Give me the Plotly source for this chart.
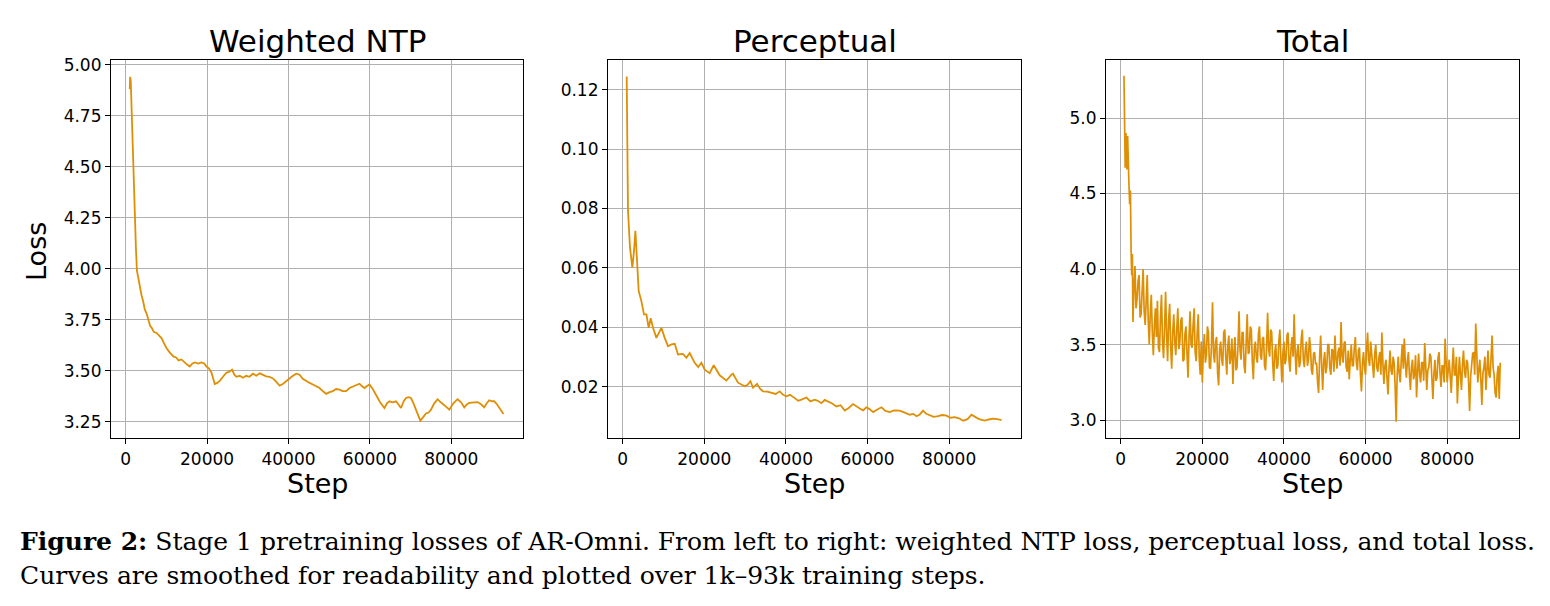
import plotly.graph_objects as go

# ---------------- data ----------------
ntp_steps = [1000, 1100, 1250, 1470, 1870, 2280, 2520, 2770, 3100, 3500, 3900, 4300, 4700, 5150, 5600,
             6000, 6400, 6900, 7600, 8200, 8800, 9400, 10050, 10800, 11700, 12400, 13000, 13700, 14400,
             15100, 15760, 16400, 17000, 17800, 18600, 19300, 19850, 20500, 21080, 21500, 21890, 22500,
             23110, 23900, 24740, 25500, 26130, 26700, 27200, 28000, 28830, 29600, 30400, 31280, 32100,
             32920, 33700, 34550, 35300, 36180, 37000, 37820, 38600, 39450, 40300, 41090, 41900, 42720,
             43500, 44360, 45200, 45990, 46800, 47620, 48400, 49260, 50100, 50890, 51700, 52530, 53300,
             54160, 55000, 55800, 56600, 57430, 58000, 58660, 59300, 59880, 60700, 61510, 62500, 63560,
             64200, 64780, 65600, 66420, 67000, 67640, 68300, 68870, 69500, 70090, 70700, 71320, 71900,
             72380, 73000, 73770, 74400, 75000, 75800, 76630, 77400, 78260, 78900, 79490, 80500, 81530,
             82400, 83170, 83800, 84390, 85400, 86430, 87300, 88070, 88700, 89290, 90000, 90520, 91200,
             91740, 92300, 92800]
ntp_loss = [4.88, 4.94, 4.92, 4.76, 4.53, 4.28, 4.10, 3.99, 3.95, 3.91, 3.87, 3.84, 3.80, 3.78, 3.75,
            3.72, 3.71, 3.69, 3.685, 3.67, 3.66, 3.635, 3.61, 3.59, 3.57, 3.565, 3.55, 3.555, 3.54,
            3.53, 3.52, 3.535, 3.54, 3.535, 3.54, 3.535, 3.52, 3.51, 3.49, 3.46, 3.435, 3.44,
            3.45, 3.47, 3.49, 3.495, 3.505, 3.48, 3.47, 3.475, 3.465, 3.475, 3.47, 3.485, 3.475,
            3.487, 3.48, 3.472, 3.47, 3.462, 3.445, 3.427, 3.435, 3.45, 3.465, 3.475, 3.485, 3.48,
            3.46, 3.448, 3.44, 3.432, 3.425, 3.415, 3.40, 3.386, 3.395, 3.40, 3.41, 3.407, 3.40,
            3.40, 3.415, 3.423, 3.43, 3.436, 3.425, 3.415, 3.425, 3.432, 3.41, 3.382, 3.345, 3.317,
            3.34, 3.35, 3.345, 3.35, 3.335, 3.317, 3.35, 3.366, 3.37, 3.366, 3.34, 3.309, 3.275,
            3.255, 3.27, 3.29, 3.295, 3.309, 3.34, 3.36, 3.345, 3.333, 3.32, 3.309, 3.34, 3.36,
            3.345, 3.32, 3.335, 3.342, 3.345, 3.346, 3.335, 3.32, 3.34, 3.355, 3.35, 3.35, 3.335,
            3.317, 3.30, 3.287]

perc_steps = [980, 1150, 1300, 1790, 2370, 2770, 3110, 3430, 3920, 4580, 5220, 5810, 6370, 6860, 7430,
              8260, 9490, 10290, 11100, 11940, 12750, 13550, 14780, 15610, 16420, 17650, 18500, 19290,
              20100, 21320, 22300, 23770, 24600, 25410, 26640, 27030, 28260, 29900, 30600, 31300,
              31940, 32920, 33700, 34390, 35400, 36450, 37500, 38480, 39300, 40120, 41000, 42160,
              43000, 43800, 44400, 45030, 46000, 47060, 47800, 48700, 49500, 50320, 51300, 52380,
              53400, 54410, 55300, 56450, 57200, 58090, 58900, 59730, 60500, 61360, 62300, 63400,
              64400, 65440, 66500, 67890, 69100, 70340, 71200, 71980, 72800, 73600, 74400, 75240,
              76200, 77280, 78300, 79340, 80300, 81370, 82400, 83410, 84500, 85470, 86300, 87090,
              87900, 88730, 89700, 90770, 91800, 92830]
perc_loss = [0.1245, 0.0961, 0.0792, 0.0668, 0.0601, 0.0657, 0.0725, 0.0646, 0.0522, 0.0488, 0.0443,
             0.0443, 0.0398, 0.0430, 0.0398, 0.0364, 0.0398, 0.0364, 0.0336, 0.0342, 0.0344, 0.0308,
             0.0310, 0.0297, 0.0313, 0.0280, 0.0266, 0.0280, 0.0257, 0.0245, 0.0272, 0.0238, 0.0230,
             0.0220, 0.0240, 0.0243, 0.0213, 0.0201, 0.0206, 0.0218, 0.0196, 0.0209, 0.0192, 0.0184,
             0.0183, 0.0178, 0.0175, 0.0184, 0.0172, 0.0167, 0.0172, 0.0161, 0.0152, 0.0156, 0.0159,
             0.0163, 0.0150, 0.0156, 0.0152, 0.0144, 0.0155, 0.0150, 0.0143, 0.0133, 0.0137, 0.0119,
             0.0127, 0.0141, 0.0133, 0.0126, 0.0120, 0.0130, 0.0124, 0.0114, 0.0122, 0.0130, 0.0118,
             0.0114, 0.0120, 0.0119, 0.0112, 0.0105, 0.0108, 0.0100, 0.0106, 0.0119, 0.0108, 0.0102,
             0.0098, 0.0100, 0.0104, 0.0102, 0.0095, 0.0097, 0.0093, 0.0085, 0.0090, 0.0105, 0.0097,
             0.0092, 0.0088, 0.0085, 0.0089, 0.0092, 0.0090, 0.0087]

total_early_steps = [800, 1000, 1100, 1200, 1300, 1400, 1550, 1700, 1850, 2000, 2200, 2380, 2550, 2700, 2860]
total_early_loss = [5.28, 4.94, 4.67, 4.88, 4.90, 4.72, 4.66, 4.88, 4.62, 4.58, 4.43, 4.52, 4.12, 3.96, 4.10]
total_log_start, total_log_every = 3000, 250
total_loss = [
    3.65, 3.88, 4.02, 3.74, 3.80, 3.92, 3.96, 3.68, 3.70, 3.85, 4.00, 3.72, 3.63, 3.79, 3.96, 3.66, 3.50, 3.71, 3.83, 3.58,
    3.43, 3.62, 3.74, 3.55, 3.79, 3.48, 3.45, 3.68, 3.83, 3.52, 3.41, 3.60, 3.85, 3.57, 3.39, 3.66, 3.77, 3.49, 3.34, 3.58,
    3.70, 3.52, 3.43, 3.61, 3.74, 3.47, 3.52, 3.66, 3.68, 3.39, 3.40, 3.57, 3.62, 3.44, 3.28, 3.55, 3.72, 3.50, 3.48, 3.63,
    3.74, 3.45, 3.39, 3.58, 3.70, 3.41, 3.30, 3.52, 3.25, 3.46, 3.57, 3.38, 3.43, 3.62, 3.58, 3.35, 3.34, 3.50, 3.78, 3.44,
    3.38, 3.52, 3.55, 3.31, 3.23, 3.47, 3.52, 3.40, 3.36, 3.58, 3.60, 3.42, 3.30, 3.49, 3.56, 3.37, 3.42, 3.54, 3.24, 3.45,
    3.55, 3.33, 3.35, 3.50, 3.72, 3.46, 3.40, 3.58, 3.58, 3.36, 3.31, 3.52, 3.70, 3.44, 3.45, 3.62, 3.60, 3.39, 3.27, 3.48,
    3.52, 3.41, 3.38, 3.57, 3.62, 3.43, 3.40, 3.54, 3.55, 3.36, 3.33, 3.49, 3.71, 3.47, 3.42, 3.60, 3.58, 3.38, 3.26, 3.45,
    3.50, 3.34, 3.36, 3.52, 3.60, 3.41, 3.25, 3.44, 3.52, 3.37, 3.40, 3.56, 3.58, 3.39, 3.32, 3.48, 3.55, 3.42, 3.70, 3.45,
    3.30, 3.46, 3.50, 3.35, 3.38, 3.54, 3.60, 3.40, 3.35, 3.47, 3.52, 3.36, 3.40, 3.55, 3.48, 3.33, 3.30, 3.44, 3.45, 3.37,
    3.38, 3.25, 3.18, 3.42, 3.56, 3.36, 3.20, 3.39, 3.45, 3.31, 3.35, 3.50, 3.50, 3.34, 3.30, 3.47, 3.46, 3.32, 3.56, 3.41,
    3.34, 3.45, 3.48, 3.36, 3.65, 3.42, 3.38, 3.51, 3.52, 3.35, 3.32, 3.46, 3.27, 3.40, 3.50, 3.36, 3.36, 3.48, 3.55, 3.38,
    3.33, 3.46, 3.48, 3.30, 3.19, 3.38, 3.45, 3.34, 3.30, 3.47, 3.58, 3.40, 3.36, 3.52, 3.42, 3.31, 3.28, 3.44, 3.50, 3.35,
    3.32, 3.41, 3.45, 3.30, 3.58, 3.38, 3.24, 3.36, 3.40, 3.28, 3.17, 3.34, 3.46, 3.33, 3.30, 3.42, 3.38, 3.22, 2.99, 3.30,
    3.42, 3.31, 3.25, 3.40, 3.50, 3.34, 3.54, 3.38, 3.28, 3.39, 3.45, 3.30, 3.20, 3.35, 3.40, 3.27, 3.30, 3.43, 3.15, 3.32,
    3.44, 3.30, 3.25, 3.38, 3.38, 3.26, 3.51, 3.36, 3.20, 3.33, 3.35, 3.44, 3.42, 3.28, 3.14, 3.30, 3.40, 3.26, 3.28, 3.41,
    3.45, 3.31, 3.22, 3.36, 3.36, 3.25, 3.54, 3.38, 3.25, 3.33, 3.40, 3.29, 3.18, 3.35, 3.48, 3.30, 3.30, 3.42, 3.11, 3.28,
    3.42, 3.30, 3.20, 3.37, 3.46, 3.32, 3.28, 3.40, 3.38, 3.25, 3.06, 3.29, 3.35, 3.44, 3.45, 3.30, 3.64, 3.38, 3.25, 3.33,
    3.40, 3.27, 3.10, 3.31, 3.35, 3.42, 3.20, 3.33, 3.46, 3.30, 3.28, 3.41, 3.56, 3.35, 3.30, 3.18, 3.15, 3.30, 3.36, 3.14,
    3.38,
]

panel_titles = ["Weighted NTP", "Perceptual", "Total"]
x_tick_vals = [0, 20000, 40000, 60000, 80000]
ntp_ticks = [3.25, 3.50, 3.75, 4.00, 4.25, 4.50, 4.75, 5.00]
perc_ticks = [0.02, 0.04, 0.06, 0.08, 0.10, 0.12]
total_ticks = [3.0, 3.5, 4.0, 4.5, 5.0]
caption_bold = "Figure 2:"
caption_line1 = " Stage 1 pretraining losses of AR-Omni. From left to right: weighted NTP loss, perceptual loss, and total loss."
caption_line2 = "Curves are smoothed for readability and plotted over 1k–93k training steps."

# ---------------- figure ----------------
W, H = 1550, 606
LINE = "#DE8F05"
FONT = "DejaVu Sans"

total_steps = total_early_steps + [total_log_start + i * total_log_every for i in range(len(total_loss))]
total_all = total_early_loss + total_loss

fig = go.Figure()
fig.add_trace(go.Scatter(x=ntp_steps, y=ntp_loss, mode="lines", line=dict(color=LINE, width=1.8),
                         xaxis="x", yaxis="y", showlegend=False))
fig.add_trace(go.Scatter(x=perc_steps, y=perc_loss, mode="lines", line=dict(color=LINE, width=1.8),
                         xaxis="x2", yaxis="y2", showlegend=False))
fig.add_trace(go.Scatter(x=total_steps, y=total_all, mode="lines", line=dict(color=LINE, width=1.7),
                         xaxis="x3", yaxis="y3", showlegend=False))

px_left = [111, 608, 1106]
px_right = [523, 1021, 1519]
top_px, bot_px = 55, 437
ydom = [(H - bot_px) / H, (H - top_px) / H]

axis_common = dict(showline=True, linecolor="black", linewidth=1.2, mirror=True,
                   ticks="outside", ticklen=5, tickwidth=1.2, tickcolor="black",
                   showgrid=True, gridcolor="#b0b0b0", gridwidth=1, zeroline=False,
                   tickfont=dict(family=FONT, size=17, color="black"))

yranges = [[3.168, 5.025], [0.00253, 0.1302], [2.879, 5.387]]
yticks = [ntp_ticks, perc_ticks, total_ticks]
yfmt = ["%.2f", "%.2f", "%.1f"]

for i in range(3):
    sx = "" if i == 0 else str(i + 1)
    fig.update_layout(**{
        f"xaxis{sx}": dict(domain=[px_left[i] / W, px_right[i] / W], anchor=f"y{sx}",
                           range=[-3600, 97600], tickvals=x_tick_vals,
                           ticktext=[str(v) for v in x_tick_vals], **axis_common),
        f"yaxis{sx}": dict(domain=ydom, anchor=f"x{sx}", range=yranges[i],
                           tickvals=yticks[i], ticktext=[yfmt[i] % v for v in yticks[i]],
                           **axis_common),
    })
    cx = (px_left[i] + px_right[i]) / 2 / W
    fig.add_annotation(x=cx, y=(H - 36) / H, xref="paper", yref="paper", text=panel_titles[i],
                       showarrow=False, font=dict(family=FONT, size=31, color="black"),
                       xanchor="center", yanchor="middle")
    fig.add_annotation(x=cx, y=(H - 482) / H, xref="paper", yref="paper", text="Step",
                       showarrow=False, font=dict(family=FONT, size=27, color="black"),
                       xanchor="center", yanchor="middle")

fig.add_annotation(x=37 / W, y=(H - 249) / H, xref="paper", yref="paper", text="Loss",
                   showarrow=False, textangle=-90, font=dict(family=FONT, size=27, color="black"),
                   xanchor="center", yanchor="middle")

fig.add_annotation(x=18 / W, y=(H - 541) / H, xref="paper", yref="paper",
                   text=f"<b>{caption_bold}</b>{caption_line1}", showarrow=False,
                   font=dict(family="DejaVu Serif", size=25, color="black"),
                   xanchor="left", yanchor="middle")
fig.add_annotation(x=18 / W, y=(H - 575) / H, xref="paper", yref="paper",
                   text=caption_line2, showarrow=False,
                   font=dict(family="DejaVu Serif", size=25, color="black"),
                   xanchor="left", yanchor="middle")

fig.update_layout(width=W, height=H, margin=dict(l=0, r=0, t=0, b=0),
                  paper_bgcolor="white", plot_bgcolor="white")

fig.write_html("out.html", config={"displayModeBar": False})
